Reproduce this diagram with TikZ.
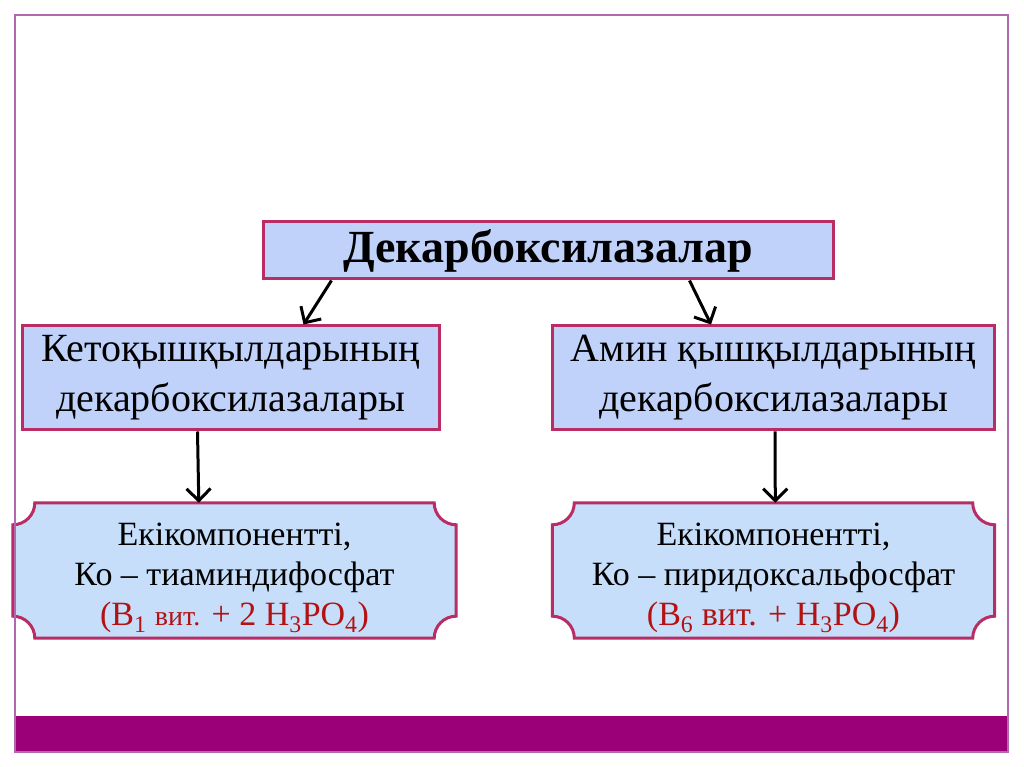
\documentclass[tikz,border=0pt]{standalone}
\usepackage{fontspec}
\setmainfont{Liberation Serif}
\usetikzlibrary{positioning,arrows.meta,backgrounds}

\definecolor{framecol}{RGB}{176,104,176}
\definecolor{barcol}{RGB}{155,0,120}
\definecolor{edgecol}{RGB}{185,45,100}
\definecolor{boxfill}{RGB}{192,210,250}
\definecolor{plaquefill}{RGB}{198,222,250}
\definecolor{vitred}{RGB}{178,18,18}

\newcommand{\plaquepath}[1]{%
  \draw[plaqueline] ([yshift=-22pt]#1.north west) arc[start angle=270,end angle=360,radius=22pt]
    -- ([xshift=-22pt]#1.north east) arc[start angle=180,end angle=270,radius=22pt]
    -- ([yshift=22pt]#1.south east) arc[start angle=90,end angle=180,radius=22pt]
    -- ([xshift=22pt]#1.south west) arc[start angle=0,end angle=90,radius=22pt] -- cycle;}

\begin{document}
\begin{tikzpicture}[x=1pt, y=1pt,
  box/.style={draw=edgecol, line width=3pt, fill=boxfill, inner sep=0pt, align=center},
  plaquebox/.style={inner sep=0pt},
  plaqueline/.style={draw=edgecol, line width=3pt, fill=plaquefill},
  arr/.style={line width=3pt, -{Straight Barb[length=12pt, width=24pt, line width=3pt]}},
  midtext/.style={font=\fontsize{40}{50}\selectfont, align=center},
  lowtext/.style={font=\fontsize{34}{40}\selectfont, align=center}]
\useasboundingbox (0,0) rectangle (1024,767);

% slide frame
\fill[barcol] (15,15) rectangle (1008,51);
\draw[framecol, line width=2pt] (15,15) rectangle (1008,752);

% boxes
\node[box, minimum width=570pt, minimum height=57pt, font=\fontsize{46}{50}\selectfont\bfseries]
  (dekarb) at (548,516.5) {Декарбоксилазалар};
\node[box, minimum width=417pt, minimum height=104pt, midtext]
  (keto) at (230.5,389) {Кетоқышқылдарының\\декарбоксилазалары};
\node[box, minimum width=442pt, minimum height=104pt, midtext]
  (amin) at (773.5,389) {Амин қышқылдарының\\декарбоксилазалары};

\node[plaquebox, minimum width=443pt, minimum height=135pt] (tiam) at (234.5,196.5) {};
\node[plaquebox, minimum width=442pt, minimum height=135pt] (pirid) at (773.5,196.5) {};
\begin{scope}[on background layer]
\plaquepath{tiam}
\plaquepath{pirid}
\end{scope}
\node[lowtext] (tiamtxt) at (tiam.center) [yshift=-7pt]
  {Екікомпоненттi,\\Ко -- тиаминдифосфат\\\textcolor{vitred}{(B\textsubscript{1} {\fontsize{28}{40}\selectfont вит.} + 2 H\textsubscript{3}PO\textsubscript{4})}};
\node[lowtext] (piridtxt) at (pirid.center) [yshift=-7pt]
  {Екікомпоненттi,\\Ко -- пиридоксальфосфат\\\textcolor{vitred}{(B\textsubscript{6} вит. + H\textsubscript{3}PO\textsubscript{4})}};

% arrows
\draw[arr] ([xshift=70pt]dekarb.south west) -- ([xshift=283pt]keto.north west);
\draw[arr] ([xshift=-145pt]dekarb.south east) -- ([xshift=160pt]amin.north west);
\draw[arr] ([xshift=177pt]keto.south west) -- ([xshift=186pt]tiam.north west);
\draw[arr] ([xshift=224pt]amin.south west) -- ([xshift=223pt]pirid.north west);

\end{tikzpicture}
\end{document}
